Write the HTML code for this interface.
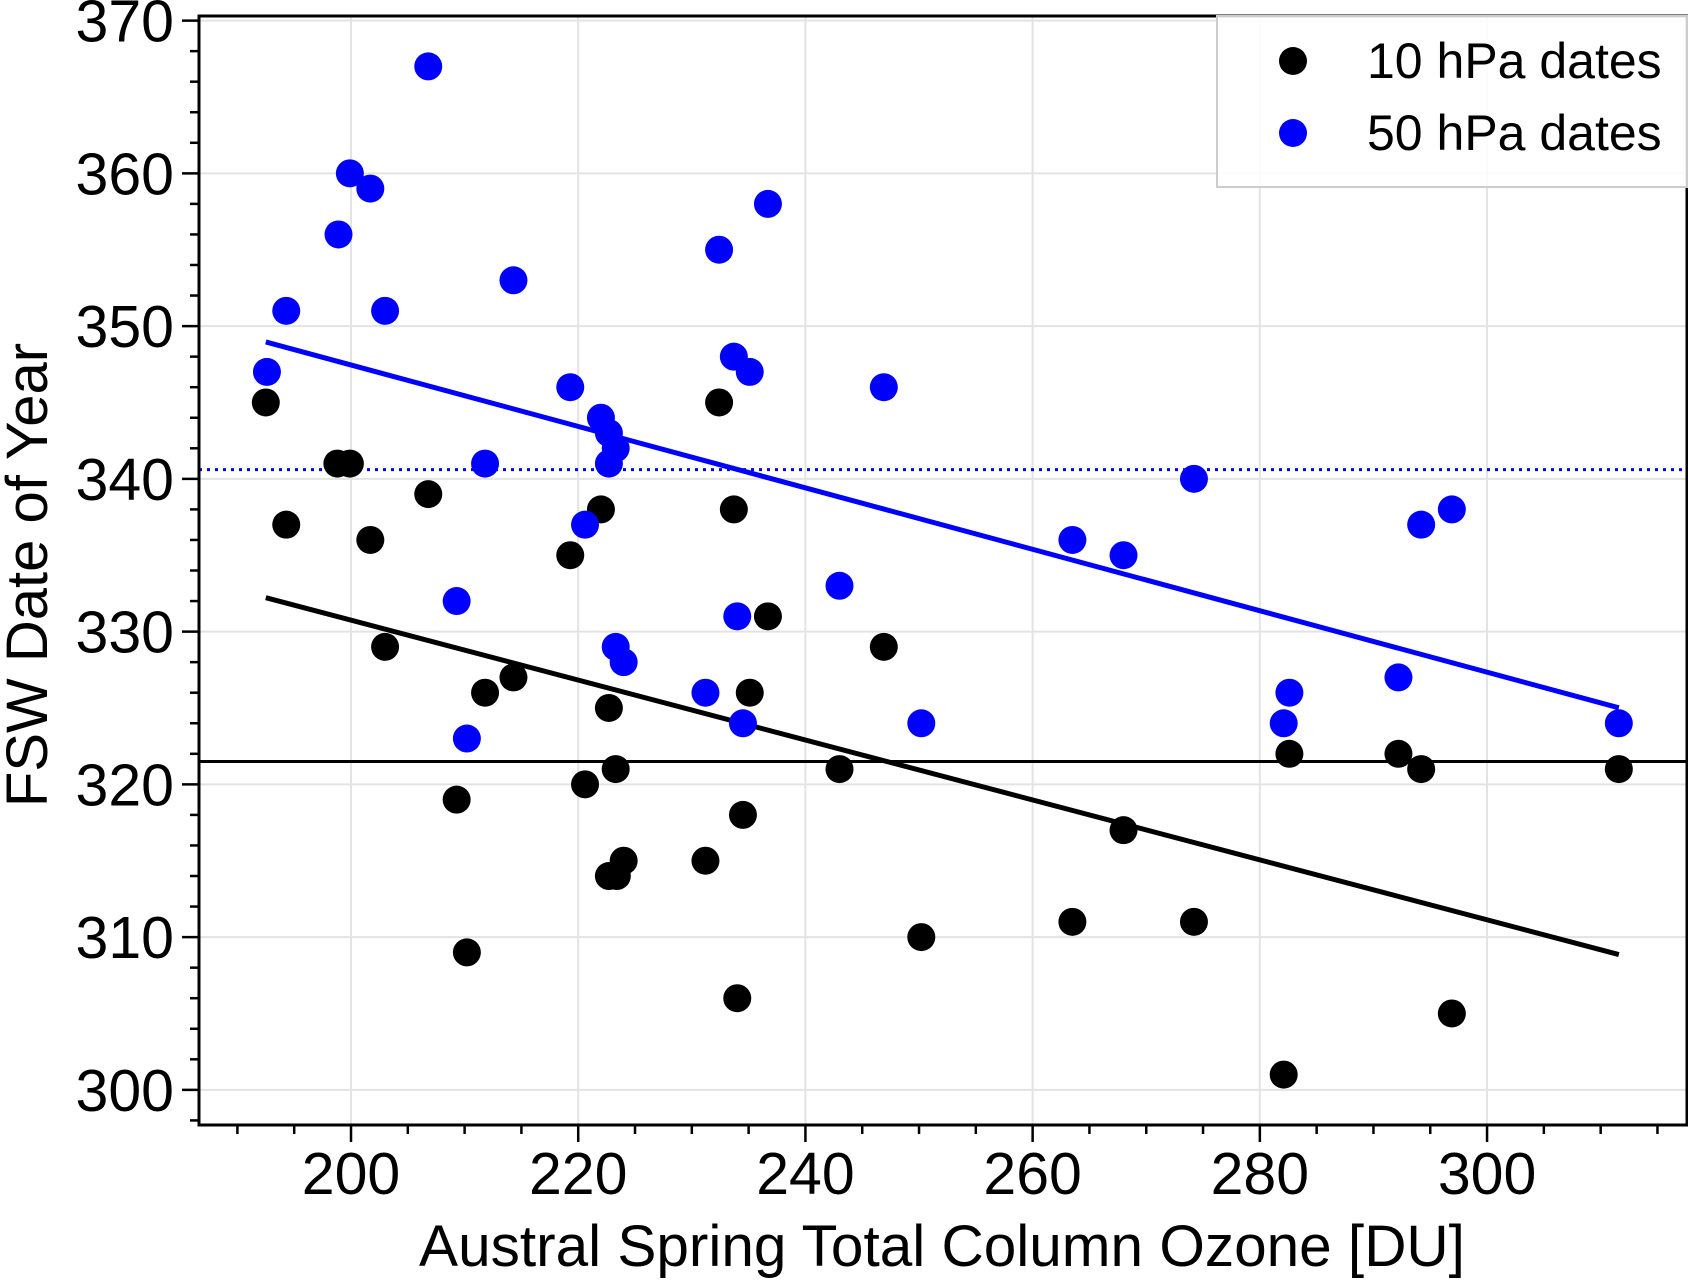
<!DOCTYPE html>
<html><head><meta charset="utf-8"><style>
html,body{margin:0;padding:0;background:#fff}
svg{display:block;font-family:"Liberation Sans",Arial,sans-serif}
</style></head><body>
<svg id="chart" width="1688" height="1280" viewBox="0 0 1688 1280" xmlns="http://www.w3.org/2000/svg">
<g id="grid"></g>
<g id="lines"></g>
<g id="marks"></g>
<g id="axes"></g>
<g id="legend">
<rect x="1217" y="16" width="470" height="171" fill="rgba(255,255,255,0.85)" stroke="#ccc" stroke-width="2"/>
<circle cx="1293" cy="61" r="14" fill="#000"/>
<text x="1367" y="78" font-size="50">10 hPa dates</text>
<circle cx="1293" cy="133" r="14" fill="#0000ff"/>
<text x="1367" y="150" font-size="50">50 hPa dates</text>
</g>
<text x="942" y="1266" font-size="58.5" text-anchor="middle">Austral Spring Total Column Ozone [DU]</text>
<text transform="translate(47,575) rotate(-90)" font-size="58" text-anchor="middle">FSW Date of Year</text>
</svg>
<script>
const ozone = [192.5,194.3,198.8,199.9,201.7,203,206.8,209.3,210.2,211.8,214.3,219.3,220.6,222,222.7,222.7,223.3,223.4,224,231.2,232.4,233.7,234,234.5,235.1,236.7,243,246.9,250.2,263.5,268,274.2,282.1,282.6,292.2,294.2,296.9,311.6];
const fsw10 = [345,337,341,341,336,329,339,319,309,326,327,335,320,338,325,314,321,314,315,315,345,338,306,318,326,331,321,329,310,311,317,311,301,322,322,321,305,321];
const ozone50 = [192.6,194.3,198.9,199.9,201.7,203,206.8,209.3,210.2,211.8,214.3,219.3,220.6,222,222.7,222.7,223.3,223.3,224,231.2,232.4,233.7,234,234.5,235.1,236.7,243,246.9,250.2,263.5,268,274.2,282.1,282.6,292.2,294.2,296.9,311.6];
const fsw50 = [347,351,356,360,359,351,367,332,323,341,353,346,337,344,343,341,342,329,328,326,355,348,331,324,347,358,333,346,324,336,335,340,324,326,327,337,338,324];
const meanLevels = [321.5, 340.6];
const xTicks = [200,220,240,260,280,300];
const yTicks = [300,310,320,330,340,350,360,370];

const NS="http://www.w3.org/2000/svg";
const L=199,R=1687,T=16,B=1125;
const xMin=186.62,xMax=317.6,yMin=297.7,yMax=370.3;
const sx=v=>L+(v-xMin)/(xMax-xMin)*(R-L);
const sy=v=>B-(v-yMin)/(yMax-yMin)*(B-T);
function mk(tag,attrs,parent){const e=document.createElementNS(NS,tag);for(const k in attrs)e.setAttribute(k,attrs[k]);parent.appendChild(e);return e;}
const grid=document.getElementById('grid'),axes=document.getElementById('axes'),marks=document.getElementById('marks'),lines=document.getElementById('lines');

xTicks.forEach(v=>{const g=mk('line',{x1:sx(v),x2:sx(v),y1:T,y2:B,stroke:'#e3e3e3','stroke-width':2},grid);

});
yTicks.forEach(v=>{const g=mk('line',{x1:L,x2:R,y1:sy(v),y2:sy(v),stroke:'#e3e3e3','stroke-width':2},grid);

});

function fit(xs,ys){const n=xs.length;let mx=0,my=0;for(let i=0;i<n;i++){mx+=xs[i];my+=ys[i];}mx/=n;my/=n;let sxy=0,sxx=0;for(let i=0;i<n;i++){sxy+=(xs[i]-mx)*(ys[i]-my);sxx+=(xs[i]-mx)**2;}const b=sxy/sxx;return {a:my-b*mx,b:b};}
const f10=fit(ozone,fsw10),f50=fit(ozone50,fsw50);
const x0=Math.min(...ozone),x1=Math.max(...ozone);
let e;
e=mk('line',{x1:L,x2:R,y1:sy(meanLevels[0]),y2:sy(meanLevels[0]),stroke:'#000','stroke-width':3},lines);


e=mk('line',{x1:L,x2:R,y1:sy(meanLevels[1]),y2:sy(meanLevels[1]),stroke:'#0000ff','stroke-width':3,'stroke-dasharray':'3,5'},lines);


e=mk('line',{x1:sx(x0),x2:sx(x1),y1:sy(f10.a+f10.b*x0),y2:sy(f10.a+f10.b*x1),stroke:'#000','stroke-width':5},lines);


e=mk('line',{x1:sx(x0),x2:sx(x1),y1:sy(f50.a+f50.b*x0),y2:sy(f50.a+f50.b*x1),stroke:'#0000ff','stroke-width':5},lines);



ozone.forEach((v,i)=>{const c=mk('circle',{cx:sx(v),cy:sy(fsw10[i]),r:14,fill:'#000'},marks);

});
ozone50.forEach((v,i)=>{const c=mk('circle',{cx:sx(v),cy:sy(fsw50[i]),r:14,fill:'#0000ff'},marks);

});

e=mk('rect',{x:L,y:T,width:R-L,height:B-T,fill:'none',stroke:'#000','stroke-width':3},axes);


for(let v=190;v<=315;v+=5){const maj=v%20===0;const t=mk('line',{x1:sx(v),x2:sx(v),y1:B,y2:B+(maj?17:9),stroke:'#000','stroke-width':2.5},axes);

}
for(let v=298;v<=370;v+=2){const maj=v%10===0;const t=mk('line',{x1:L,x2:L-(maj?17:9),y1:sy(v),y2:sy(v),stroke:'#000','stroke-width':2.5},axes);

}
xTicks.forEach(v=>{const t=mk('text',{x:sx(v),y:1194,'font-size':59,'text-anchor':'middle'},axes);t.textContent=v;

});
yTicks.forEach(v=>{const t=mk('text',{x:174,y:sy(v)+21,'font-size':59,'text-anchor':'end'},axes);t.textContent=v;

});
</script>
</body></html>
